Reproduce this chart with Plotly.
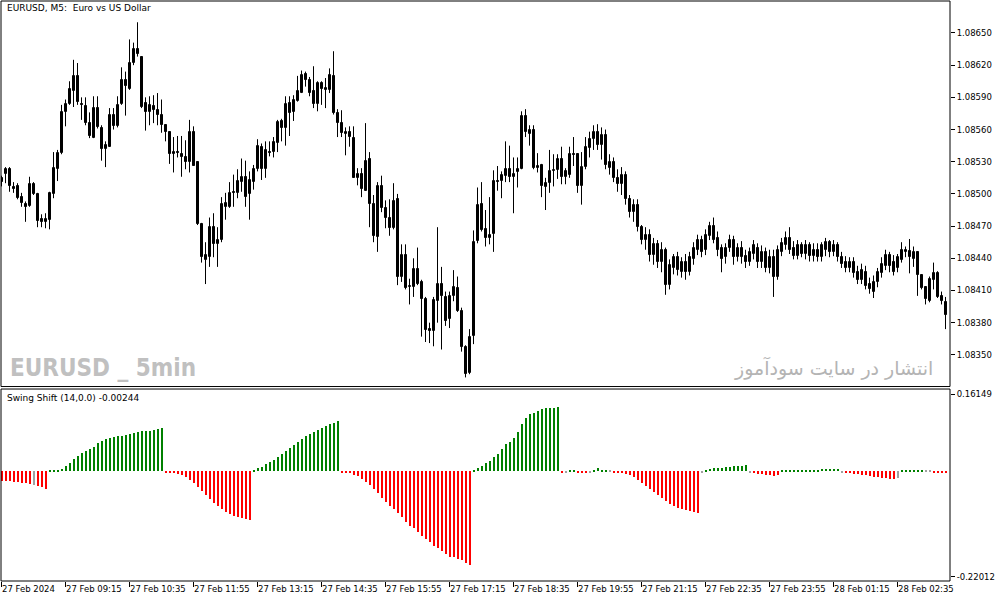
import plotly.graph_objects as go

# ---------------- data (EURUSD M5, 27 Feb 2024 07:55 -> 28 Feb 03:35) ----------------
opens = [1.08515,1.08519,1.08523,1.08506,1.08507,1.08497,1.08491,1.08489,1.08509,1.08500,
         1.08477,1.08474,1.08476,1.08500,1.08523,1.08538,1.08576,1.08584,1.08596,1.08610,
         1.08584,1.08582,1.08566,1.08552,1.08580,1.08561,1.08542,1.08544,1.08574,1.08563,
         1.08584,1.08606,1.08598,1.08622,1.08635,1.08628,1.08585,1.08576,1.08582,1.08578,
         1.08574,1.08564,1.08558,1.08537,1.08539,1.08537,1.08534,1.08530,1.08558,1.08530,
         1.08472,1.08438,1.08441,1.08469,1.08453,1.08457,1.08488,1.08488,1.08502,1.08501,
         1.08511,1.08516,1.08500,1.08511,1.08523,1.08544,1.08523,1.08539,1.08539,1.08547,
         1.08568,1.08561,1.08585,1.08576,1.08587,1.08594,1.08612,1.08606,1.08596,1.08584,
         1.08603,1.08597,1.08597,1.08610,1.08575,1.08566,1.08556,1.08558,1.08552,1.08515,
         1.08519,1.08503,1.08533,1.08491,1.08460,1.08507,1.08487,1.08478,1.08468,1.08495,
         1.08423,1.08443,1.08413,1.08413,1.08430,1.08418,1.08402,1.08374,1.08372,1.08400,
         1.08416,1.08404,1.08383,1.08405,1.08412,1.08391,1.08357,1.08333,1.08368,1.08456,
         1.08491,1.08467,1.08459,1.08463,1.08512,1.08512,1.08517,1.08523,1.08516,1.08520,
         1.08523,1.08573,1.08556,1.08560,1.08524,1.08527,1.08506,1.08510,1.08521,1.08522,
         1.08533,1.08516,1.08518,1.08537,1.08537,1.08507,1.08525,1.08543,1.08551,1.08558,
         1.08546,1.08555,1.08524,1.08530,1.08515,1.08509,1.08518,1.08495,1.08483,1.08490,
         1.08469,1.08457,1.08462,1.08443,1.08453,1.08437,1.08448,1.08415,1.08431,1.08441,
         1.08427,1.08437,1.08427,1.08439,1.08448,1.08457,1.08448,1.08461,1.08470,1.08459,
         1.08450,1.08441,1.08450,1.08457,1.08441,1.08450,1.08442,1.08437,1.08444,1.08450,
         1.08437,1.08446,1.08431,1.08441,1.08423,1.08446,1.08452,1.08459,1.08450,1.08442,
         1.08452,1.08444,1.08452,1.08442,1.08448,1.08441,1.08448,1.08455,1.08446,1.08452,
         1.08441,1.08437,1.08431,1.08437,1.08427,1.08420,1.08427,1.08416,1.08409,1.08418,
         1.08426,1.08433,1.08443,1.08437,1.08431,1.08438,1.08446,1.08447,1.08439,1.08446,
         1.08424,1.08413,1.08400,1.08420,1.08426,1.08405,1.08399]
highs = [1.08517,1.08525,1.08525,1.08511,1.08510,1.08501,1.08493,1.08516,1.08511,1.08501,
         1.08481,1.08482,1.08502,1.08539,1.08541,1.08583,1.08588,1.08605,1.08625,1.08622,
         1.08590,1.08590,1.08576,1.08591,1.08591,1.08564,1.08549,1.08580,1.08580,1.08591,
         1.08618,1.08614,1.08644,1.08641,1.08660,1.08628,1.08590,1.08591,1.08592,1.08594,
         1.08588,1.08564,1.08558,1.08553,1.08554,1.08554,1.08550,1.08569,1.08563,1.08530,
         1.08473,1.08455,1.08478,1.08482,1.08469,1.08497,1.08501,1.08511,1.08518,1.08523,
         1.08533,1.08531,1.08521,1.08527,1.08551,1.08547,1.08549,1.08549,1.08553,1.08569,
         1.08570,1.08591,1.08591,1.08592,1.08610,1.08615,1.08614,1.08609,1.08619,1.08605,
         1.08605,1.08608,1.08617,1.08633,1.08579,1.08578,1.08562,1.08563,1.08563,1.08524,
         1.08524,1.08566,1.08539,1.08499,1.08511,1.08517,1.08494,1.08495,1.08510,1.08500,
         1.08453,1.08453,1.08421,1.08440,1.08450,1.08420,1.08404,1.08380,1.08404,1.08469,
         1.08432,1.08409,1.08409,1.08429,1.08423,1.08394,1.08359,1.08374,1.08466,1.08506,
         1.08511,1.08485,1.08497,1.08522,1.08526,1.08521,1.08549,1.08545,1.08534,1.08534,
         1.08577,1.08579,1.08564,1.08564,1.08538,1.08528,1.08515,1.08541,1.08537,1.08537,
         1.08544,1.08524,1.08544,1.08553,1.08538,1.08539,1.08553,1.08558,1.08564,1.08565,
         1.08562,1.08560,1.08537,1.08534,1.08523,1.08525,1.08521,1.08499,1.08495,1.08495,
         1.08471,1.08469,1.08467,1.08459,1.08457,1.08455,1.08450,1.08439,1.08444,1.08446,
         1.08441,1.08444,1.08446,1.08455,1.08462,1.08461,1.08467,1.08474,1.08478,1.08465,
         1.08453,1.08454,1.08462,1.08461,1.08454,1.08456,1.08448,1.08450,1.08457,1.08454,
         1.08452,1.08450,1.08448,1.08448,1.08452,1.08459,1.08465,1.08469,1.08456,1.08457,
         1.08455,1.08457,1.08455,1.08454,1.08454,1.08455,1.08459,1.08457,1.08457,1.08455,
         1.08446,1.08442,1.08441,1.08441,1.08433,1.08435,1.08433,1.08422,1.08424,1.08431,
         1.08441,1.08448,1.08446,1.08443,1.08444,1.08455,1.08451,1.08458,1.08451,1.08446,
         1.08425,1.08414,1.08423,1.08436,1.08428,1.08409,1.08404]
lows = [1.08507,1.08510,1.08502,1.08501,1.08495,1.08488,1.08474,1.08488,1.08499,1.08469,
        1.08469,1.08468,1.08467,1.08496,1.08512,1.08537,1.08563,1.08583,1.08581,1.08583,
        1.08569,1.08564,1.08552,1.08552,1.08561,1.08531,1.08525,1.08544,1.08560,1.08562,
        1.08583,1.08573,1.08597,1.08620,1.08628,1.08580,1.08559,1.08564,1.08566,1.08564,
        1.08557,1.08549,1.08528,1.08520,1.08534,1.08516,1.08523,1.08520,1.08526,1.08471,
        1.08436,1.08416,1.08432,1.08441,1.08432,1.08455,1.08476,1.08487,1.08488,1.08496,
        1.08502,1.08488,1.08476,1.08504,1.08521,1.08513,1.08515,1.08535,1.08534,1.08539,
        1.08549,1.08545,1.08554,1.08568,1.08586,1.08594,1.08600,1.08591,1.08580,1.08577,
        1.08583,1.08580,1.08594,1.08574,1.08553,1.08553,1.08536,1.08544,1.08515,1.08508,
        1.08497,1.08503,1.08469,1.08455,1.08446,1.08483,1.08468,1.08461,1.08467,1.08415,
        1.08418,1.08411,1.08397,1.08404,1.08415,1.08367,1.08362,1.08361,1.08358,1.08380,
        1.08355,1.08377,1.08375,1.08400,1.08390,1.08353,1.08329,1.08332,1.08360,1.08454,
        1.08465,1.08451,1.08453,1.08446,1.08503,1.08496,1.08511,1.08511,1.08482,1.08506,
        1.08523,1.08553,1.08545,1.08523,1.08520,1.08497,1.08485,1.08501,1.08507,1.08514,
        1.08509,1.08509,1.08515,1.08526,1.08501,1.08490,1.08523,1.08534,1.08541,1.08541,
        1.08532,1.08523,1.08518,1.08511,1.08502,1.08499,1.08490,1.08478,1.08474,1.08465,
        1.08453,1.08448,1.08437,1.08434,1.08431,1.08427,1.08406,1.08411,1.08425,1.08424,
        1.08422,1.08420,1.08424,1.08434,1.08443,1.08441,1.08443,1.08457,1.08454,1.08442,
        1.08427,1.08435,1.08446,1.08434,1.08437,1.08435,1.08431,1.08433,1.08439,1.08431,
        1.08431,1.08427,1.08426,1.08404,1.08420,1.08442,1.08448,1.08444,1.08439,1.08439,
        1.08441,1.08439,1.08437,1.08437,1.08437,1.08437,1.08442,1.08441,1.08442,1.08437,
        1.08431,1.08427,1.08427,1.08422,1.08416,1.08416,1.08411,1.08407,1.08403,1.08413,
        1.08422,1.08429,1.08427,1.08424,1.08427,1.08436,1.08441,1.08426,1.08432,1.08405,
        1.08411,1.08397,1.08399,1.08411,1.08403,1.08397,1.08374]
closes = [1.08511,1.08523,1.08507,1.08505,1.08496,1.08492,1.08488,1.08509,1.08500,1.08475,
          1.08474,1.08477,1.08501,1.08524,1.08538,1.08576,1.08584,1.08598,1.08610,1.08586,
          1.08583,1.08566,1.08554,1.08580,1.08562,1.08542,1.08546,1.08574,1.08563,1.08583,
          1.08606,1.08601,1.08622,1.08635,1.08630,1.08581,1.08576,1.08583,1.08578,1.08574,
          1.08564,1.08558,1.08537,1.08539,1.08538,1.08534,1.08530,1.08558,1.08526,1.08472,
          1.08441,1.08443,1.08469,1.08453,1.08457,1.08491,1.08492,1.08501,1.08501,1.08512,
          1.08516,1.08497,1.08513,1.08523,1.08545,1.08523,1.08541,1.08538,1.08548,1.08567,
          1.08561,1.08584,1.08575,1.08588,1.08596,1.08611,1.08606,1.08594,1.08584,1.08603,
          1.08598,1.08599,1.08611,1.08575,1.08566,1.08557,1.08558,1.08553,1.08515,1.08519,
          1.08505,1.08531,1.08491,1.08461,1.08507,1.08487,1.08478,1.08468,1.08493,1.08423,
          1.08443,1.08412,1.08414,1.08430,1.08416,1.08402,1.08373,1.08372,1.08401,1.08416,
          1.08405,1.08382,1.08405,1.08413,1.08391,1.08357,1.08332,1.08367,1.08455,1.08490,
          1.08466,1.08459,1.08462,1.08512,1.08511,1.08518,1.08523,1.08516,1.08519,1.08523,
          1.08573,1.08558,1.08560,1.08524,1.08526,1.08507,1.08510,1.08521,1.08522,1.08533,
          1.08516,1.08521,1.08537,1.08536,1.08507,1.08525,1.08544,1.08551,1.08558,1.08546,
          1.08555,1.08527,1.08530,1.08515,1.08509,1.08518,1.08495,1.08483,1.08490,1.08469,
          1.08457,1.08462,1.08443,1.08453,1.08437,1.08448,1.08415,1.08434,1.08441,1.08429,
          1.08437,1.08427,1.08441,1.08450,1.08457,1.08446,1.08462,1.08470,1.08457,1.08448,
          1.08439,1.08450,1.08457,1.08441,1.08450,1.08441,1.08437,1.08446,1.08452,1.08437,
          1.08446,1.08431,1.08441,1.08423,1.08448,1.08454,1.08459,1.08448,1.08442,1.08452,
          1.08444,1.08452,1.08442,1.08448,1.08441,1.08452,1.08455,1.08446,1.08452,1.08441,
          1.08435,1.08431,1.08437,1.08426,1.08420,1.08429,1.08414,1.08411,1.08418,1.08427,
          1.08435,1.08443,1.08433,1.08427,1.08441,1.08448,1.08448,1.08441,1.08446,1.08424,
          1.08412,1.08402,1.08421,1.08426,1.08404,1.08400,1.08387]

swing_shift = [-0.0209,-0.0209,-0.0209,-0.0229,-0.0229,-0.0250,-0.0250,-0.0271,-0.0292,-0.0313,
               -0.0334,-0.0375,
               0.0015,0.0015,0.0035,0.0048,0.0111,0.0188,0.0256,0.0327,0.0396,0.0432,0.0465,0.0521,
               0.0590,0.0640,0.0673,0.0709,0.0730,0.0744,0.0751,0.0765,0.0778,0.0807,0.0828,0.0849,
               0.0851,0.0853,0.0861,0.0890,0.0911,
               -0.0015,-0.0015,-0.0015,
               -0.0042,-0.0083,-0.0125,-0.0188,-0.0250,-0.0334,-0.0417,-0.0500,-0.0584,-0.0667,
               -0.0730,-0.0792,-0.0855,-0.0897,-0.0938,-0.0959,-0.0980,-0.1001,-0.1022,
               0.0021,0.0063,0.0104,0.0167,0.0209,0.0250,0.0313,0.0375,0.0438,0.0500,0.0563,
               0.0626,0.0688,0.0751,0.0792,0.0834,0.0876,0.0917,0.0959,0.1001,0.1022,0.1063,
               -0.0015,-0.0015,
               -0.0021,-0.0063,-0.0104,-0.0167,-0.0229,-0.0292,-0.0375,-0.0459,-0.0563,-0.0646,
               -0.0730,-0.0792,-0.0876,
               -0.0959,-0.1063,-0.1132,-0.1188,-0.1272,-0.1355,-0.1418,-0.1480,-0.1557,-0.1605,
               -0.1668,-0.1724,-0.1793,-0.1795,-0.1841,-0.1862,-0.1918,-0.1954,
               0.0015,0.0063,0.0119,0.0188,0.0223,0.0306,0.0375,0.0480,0.0569,0.0619,0.0709,
               0.0828,0.1001,0.1126,0.1195,0.1224,0.1266,0.1299,0.1328,0.1334,0.1336,0.1355,
               -0.0015,-0.0015,0.0015,0.0015,-0.0015,-0.0015,-0.0015,-0.0015,0.0031,0.0063,
               0.0031,0.0015,0.0015,-0.0015,-0.0015,-0.0021,
               -0.0042,-0.0083,-0.0125,-0.0188,-0.0250,-0.0313,-0.0375,-0.0438,-0.0500,-0.0563,
               -0.0626,-0.0688,-0.0730,-0.0771,-0.0792,-0.0813,-0.0834,-0.0855,-0.0876,
               -0.0015,
               0.0021,0.0042,0.0063,0.0065,0.0083,0.0086,0.0104,0.0106,0.0108,0.0125,0.0127,
               -0.0015,-0.0021,-0.0042,-0.0044,-0.0063,-0.0083,-0.0104,-0.0063,
               0.0015,0.0021,0.0031,0.0031,0.0033,0.0031,0.0033,0.0031,0.0033,0.0035,0.0042,
               0.0042,0.0052,0.0052,0.0054,-0.0015,-0.0015,
               -0.0021,-0.0042,-0.0044,-0.0063,-0.0083,-0.0104,-0.0106,-0.0125,-0.0127,-0.0146,
               -0.0148,-0.0167,
               -0.0146,
               0.0015,0.0015,0.0015,0.0031,0.0031,0.0031,0.0015,0.0015,-0.0015,-0.0015,-0.0015,
               -0.00244]
neutral_bars = [8, 141, 147, 152, 175, 187, 210, 224, 231, 232]

time_labels = ["27 Feb 2024", "27 Feb 09:15", "27 Feb 10:35", "27 Feb 11:55", "27 Feb 13:15",
               "27 Feb 14:35", "27 Feb 15:55", "27 Feb 17:15", "27 Feb 18:35", "27 Feb 19:55",
               "27 Feb 21:15", "27 Feb 22:35", "27 Feb 23:55", "28 Feb 01:15", "28 Feb 02:35"]
bars_per_label = 16

price_ticks = [1.08350, 1.08380, 1.08410, 1.08440, 1.08470, 1.08500, 1.08530,
               1.08560, 1.08590, 1.08620, 1.08650]
ind_max, ind_min = 0.16149, -0.22012
last_value = -0.00244

n = len(opens)
assert len(highs) == n and len(lows) == n and len(closes) == n and len(swing_shift) == n
idx = list(range(n))

# ---------------- figure ----------------
fig = go.Figure()

# wicks
wx, wy = [], []
for i in idx:
    wx += [i, i, None]
    wy += [lows[i], highs[i], None]
fig.add_trace(go.Scatter(x=wx, y=wy, mode="lines", line=dict(color="black", width=1),
                         hoverinfo="skip", xaxis="x", yaxis="y"))

bull = [i for i in idx if closes[i] >= opens[i]]
bear = [i for i in idx if closes[i] < opens[i]]
fig.add_trace(go.Bar(x=bull, base=[opens[i] for i in bull],
                     y=[closes[i] - opens[i] for i in bull], width=0.5,
                     marker=dict(color="white", line=dict(color="black", width=1)),
                     xaxis="x", yaxis="y"))
fig.add_trace(go.Bar(x=bear, base=[closes[i] for i in bear],
                     y=[opens[i] - closes[i] for i in bear], width=0.5,
                     marker=dict(color="black", line=dict(color="black", width=1)),
                     xaxis="x", yaxis="y"))

hist_colors = []
for i, v in enumerate(swing_shift):
    if i in neutral_bars:
        hist_colors.append("#A0A0A0")
    elif v >= 0:
        hist_colors.append("#008000")
    else:
        hist_colors.append("#FF0000")
fig.add_trace(go.Bar(x=idx, y=swing_shift, width=0.5, offset=-0.125,
                     marker=dict(color=hist_colors, line=dict(width=0)),
                     xaxis="x", yaxis="y2"))

main_bottom = 0.3353
ind_top = 0.331
tick_font = dict(family="DejaVu Sans", size=8.5, color="black")

fig.update_layout(
    width=1003, height=603,
    margin=dict(l=1, r=53, t=1, b=22),
    paper_bgcolor="white", plot_bgcolor="white",
    showlegend=False, barmode="overlay", bargap=0,
    xaxis=dict(range=[-0.125, 237.125], anchor="y2", showgrid=False, zeroline=False,
               showline=False, tickmode="array",
               tickvals=[k * bars_per_label for k in range(len(time_labels))],
               ticktext=time_labels, ticks="outside", ticklen=5, tickcolor="black",
               tickangle=0, ticklabelposition="outside right", tickfont=tick_font,
               automargin=False),
    yaxis=dict(domain=[main_bottom, 1], range=[1.083205, 1.086798], side="right",
               showgrid=False, zeroline=False, showline=False, tickmode="array",
               tickvals=price_ticks, ticktext=[f"{p:.5f}" for p in price_ticks],
               ticks="outside", ticklen=4, tickcolor="black", tickfont=tick_font,
               automargin=False),
    yaxis2=dict(domain=[0, ind_top], range=[-0.2291, 0.1726], side="right",
                showgrid=False, zeroline=False, showline=False, tickmode="array",
                tickvals=[ind_max, ind_min], ticktext=[f"{ind_max:.5f}", f"{ind_min:.5f}"],
                ticks="outside", ticklen=4, tickcolor="black", tickfont=tick_font,
                automargin=False, anchor="x"),
    shapes=[
        dict(type="rect", xref="paper", yref="paper", x0=0, x1=1, y0=main_bottom, y1=1,
             line=dict(color="black", width=1)),
        dict(type="rect", xref="paper", yref="paper", x0=0, x1=1, y0=0, y1=ind_top,
             line=dict(color="black", width=1)),
    ],
    annotations=[
        dict(text="EURUSD, M5:\u00a0 Euro vs US Dollar", xref="paper", yref="paper",
             x=0.004, y=0.988, xanchor="left", yanchor="middle", showarrow=False,
             font=dict(family="DejaVu Sans", size=9, color="black")),
        dict(text=f"Swing Shift (14,0.0) {last_value:.5f}", xref="paper", yref="paper",
             x=0.004, y=0.3155, xanchor="left", yanchor="middle", showarrow=False,
             font=dict(family="DejaVu Sans", size=9, color="black")),
        dict(text="<b>EURUSD _ 5min</b>", xref="paper", yref="paper",
             x=0.007, y=0.367, xanchor="left", yanchor="middle", showarrow=False,
             font=dict(family="DejaVu Sans Condensed, Liberation Sans Narrow, Liberation Sans",
                       size=24, color="#C0C0C0")),
        dict(text="انتشار در سایت سودآموز", xref="paper", yref="paper",
             x=0.984, y=0.367, xanchor="right", yanchor="middle", showarrow=False,
             font=dict(family="DejaVu Sans", size=19, color="#B4B4B4")),
    ],
)

fig.write_html("out.html", config={"displayModeBar": False},
               post_script="document.body.style.margin='0';document.body.style.padding='0';")
